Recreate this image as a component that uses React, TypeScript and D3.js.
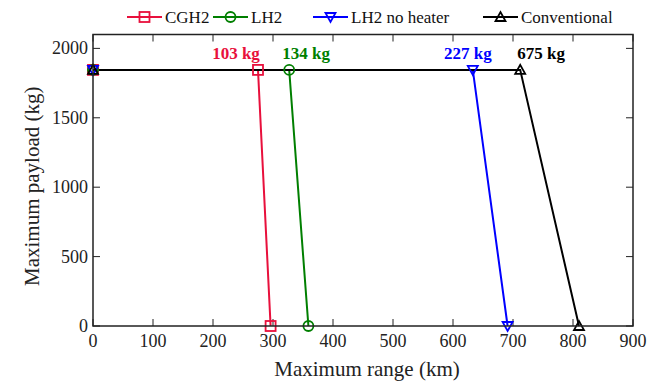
import React from "react";
import * as d3 from "d3";

const seriesNames = ["CGH2", "LH2", "LH2 no heater", "Conventional"];
const seriesColors = ["#e8103c", "#007f00", "#0000ff", "#000000"];
const seriesSymbols = ["square", "circle", "triangleDown", "triangleUp"];
// range (km) at each payload corner: start, full-payload limit, zero-payload limit
const rangeKm = [
  [0, 275, 296],
  [0, 327, 359],
  [0, 633, 691],
  [0, 712, 810],
];
const payloadKg = [1845, 1845, 0];
const massLabels = ["103 kg", "134 kg", "227 kg", "675 kg"];

const xTicks = [0, 100, 200, 300, 400, 500, 600, 700, 800, 900];
const yTicks = [0, 500, 1000, 1500, 2000];

const W = 660;
const H = 381;
const left = 93;
const right = 633;
const top = 34.5;
const bottom = 326;
const serif = "Liberation Serif, Times New Roman, Times, serif";

function Marker({ kind, x, y, color }: { kind: string; x: number; y: number; color: string }) {
  const s = 5;
  if (kind === "square")
    return <rect x={x - s} y={y - s} width={2 * s} height={2 * s} fill="none" stroke={color} strokeWidth={1.8} />;
  if (kind === "circle") return <circle cx={x} cy={y} r={s} fill="none" stroke={color} strokeWidth={1.8} />;
  const pts =
    kind === "triangleDown"
      ? [[x - s, y - s + 1], [x + s, y - s + 1], [x, y + s]]
      : [[x - s, y + s - 1], [x + s, y + s - 1], [x, y - s]];
  return <polygon points={pts.map((p) => p.join(",")).join(" ")} fill="none" stroke={color} strokeWidth={1.8} />;
}

export default function App() {
  const x = d3.scaleLinear().domain([0, 900]).range([left, right]);
  const y = d3.scaleLinear().domain([0, 2100]).range([bottom, top]);
  const line = d3
    .line<[number, number]>()
    .x((d) => x(d[0]))
    .y((d) => y(d[1]));

  const legendX = [127, 213, 313, 483];
  const labelShift = [-22, 17, -5, 21];
  const tickLen = 7;

  return (
    <svg width={W} height={H} style={{ position: "absolute", left: 0, top: 0, fontFamily: serif }}>
      <rect width={W} height={H} fill="#fff" />

      {/* legend */}
      {seriesNames.map((name, i) => (
        <g key={name}>
          <line x1={legendX[i]} x2={legendX[i] + 35} y1={17} y2={17} stroke={seriesColors[i]} strokeWidth={2} />
          <Marker kind={seriesSymbols[i]} x={legendX[i] + 17.5} y={17} color={seriesColors[i]} />
          <text x={legendX[i] + 38} y={23} fontSize={17} fill="#111">
            {name}
          </text>
        </g>
      ))}

      {/* ticks on all four sides, pointing inward */}
      {xTicks.map((t) => (
        <g key={"x" + t}>
          <line x1={x(t)} x2={x(t)} y1={bottom} y2={bottom - tickLen} stroke="#222" strokeWidth={1} />
          <line x1={x(t)} x2={x(t)} y1={top} y2={top + tickLen} stroke="#222" strokeWidth={1} />
          <text x={x(t)} y={bottom + 21} fontSize={18} textAnchor="middle" fill="#222">
            {t}
          </text>
        </g>
      ))}
      {yTicks.map((t) => (
        <g key={"y" + t}>
          <line x1={left} x2={left + tickLen} y1={y(t)} y2={y(t)} stroke="#222" strokeWidth={1} />
          <line x1={right} x2={right - tickLen} y1={y(t)} y2={y(t)} stroke="#222" strokeWidth={1} />
          <text x={left - 5} y={y(t) + 6} fontSize={18} textAnchor="end" fill="#222">
            {t}
          </text>
        </g>
      ))}

      {/* series */}
      {rangeKm.map((r, i) => {
        const pts = r.map((v, j) => [v, payloadKg[j]] as [number, number]);
        return <path key={"s" + i} d={line(pts) || ""} fill="none" stroke={seriesColors[i]} strokeWidth={2} />;
      })}
      {rangeKm.map((r, i) =>
        r.map((v, j) => (
          <Marker key={`m${i}-${j}`} kind={seriesSymbols[i]} x={x(v)} y={y(payloadKg[j])} color={seriesColors[i]} />
        ))
      )}

      {/* hydrogen / fuel mass labels */}
      {rangeKm.map((r, i) => (
        <text
          key={"l" + i}
          x={x(r[1]) + labelShift[i]}
          y={59}
          fontSize={17}
          fontWeight="bold"
          textAnchor="middle"
          fill={seriesColors[i]}
        >
          {massLabels[i]}
        </text>
      ))}

      {/* frame */}
      <rect x={left} y={top} width={right - left} height={bottom - top} fill="none" stroke="#222" strokeWidth={1.5} />

      <text x={(left + right) / 2 + 4} y={376} fontSize={21} textAnchor="middle" fill="#222">
        Maximum range (km)
      </text>
      <text
        transform={`translate(39, ${(top + bottom) / 2 + 6}) rotate(-90)`}
        fontSize={21}
        textAnchor="middle"
        fill="#222"
      >
        Maximum payload (kg)
      </text>
    </svg>
  );
}
